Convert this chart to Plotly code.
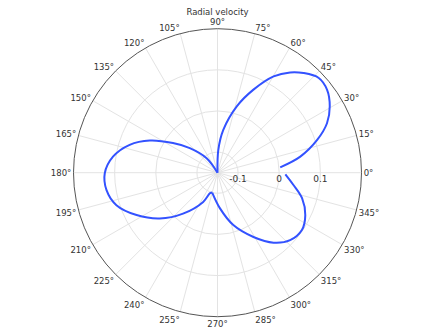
import plotly.graph_objects as go

# Lobe 1 (0° .. 90°)
lobe1_theta = [4.9, 11.0, 18.2, 24.3, 30.6, 37.1, 43.1, 49.2, 54.1, 59.8, 66.6, 73.8, 82.3, 88.0, 90.5]
lobe1_r = [0.003, 0.055, 0.105, 0.142, 0.167, 0.184, 0.187, 0.170, 0.151, 0.121, 0.070, 0.018, -0.045, -0.095, -0.15]

# Lobe 2 (left)
lobe2_theta = [118, 126.9, 138.4, 146.4, 154.6, 162.4, 171.3, 180.3, 188.9, 197.8, 207.6, 218.4, 229.9, 243.9, 250.0, 255.1]
lobe2_r = [-0.15, -0.106, -0.060, -0.020, 0.032, 0.074, 0.107, 0.124, 0.123, 0.108, 0.072, 0.029, -0.020, -0.071, -0.097, -0.100]

# Lobe 3 (bottom right)
lobe3_theta = [255.1, 274.0, 286.8, 299.2, 308.7, 317.1, 325.8, 334.2, 343.1, 350.8, 358.6]
lobe3_r = [-0.100, -0.063, -0.017, 0.029, 0.068, 0.091, 0.098, 0.087, 0.065, 0.037, 0.015]

radial_ticks = [-0.1, 0, 0.1]
radial_ticktext = ["-0.1", "0", "0.1"]
radial_range = [-0.15, 0.2]

W, H = 435, 331
cx, cy, R = 217.5, 172.7, 144

line_color = "#3352ff"
fig = go.Figure()
for th, rr in [(lobe1_theta, lobe1_r), (lobe2_theta, lobe2_r), (lobe3_theta, lobe3_r)]:
    fig.add_trace(go.Scatterpolar(
        theta=th, r=rr, mode="lines",
        line=dict(color=line_color, width=2, shape="spline", smoothing=1),
        showlegend=False, hoverinfo="skip"))

fig.update_layout(
    width=W, height=H,
    margin=dict(l=0, r=0, t=0, b=0),
    paper_bgcolor="white",
    font=dict(family="DejaVu Sans", size=9, color="#333333"),
    title=dict(text="Radial velocity", x=0.5, xanchor="center",
               y=1 - 12 / H, yanchor="middle",
               font=dict(size=8.5, color="#333333")),
    polar=dict(
        domain=dict(x=[(cx - R) / W, (cx + R) / W],
                    y=[(H - cy - R) / H, (H - cy + R) / H]),
        bgcolor="white",
        radialaxis=dict(range=radial_range, tickvals=radial_ticks,
                        ticktext=radial_ticktext, angle=0, tickangle=0,
                        showline=False, ticks="", gridcolor="#e3e3e3",
                        gridwidth=1, tickfont=dict(size=9, color="#333333")),
        angularaxis=dict(rotation=0, direction="counterclockwise",
                         dtick=15, ticksuffix="°", ticks="",
                         showline=True, linecolor="#555555", linewidth=1,
                         gridcolor="#e3e3e3", gridwidth=1,
                         tickfont=dict(size=8.5, color="#333333")),
    ),
)

fig.write_html("out.html")
